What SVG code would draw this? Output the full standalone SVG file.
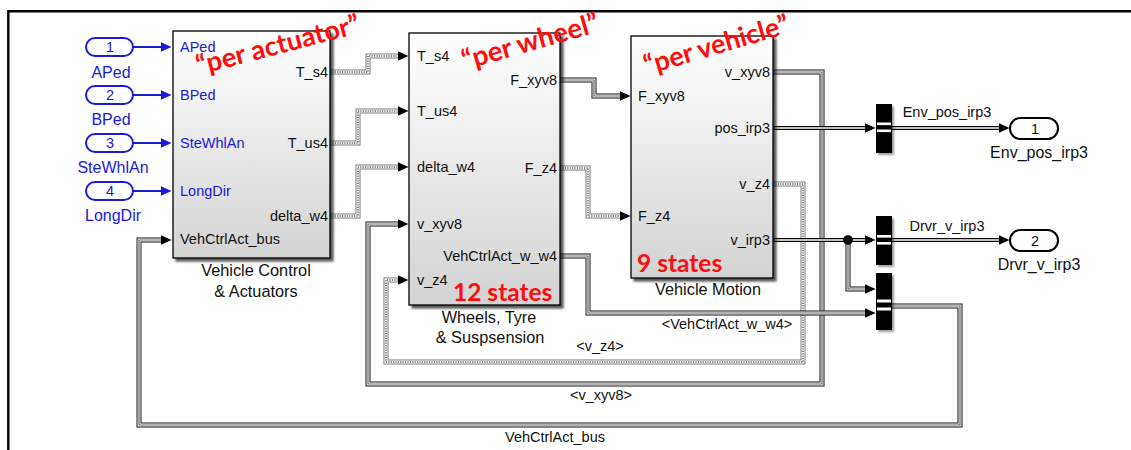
<svg xmlns="http://www.w3.org/2000/svg" width="1131" height="450" viewBox="0 0 1131 450">
<defs>
<style>
text{font-family:"Liberation Sans",Arial,sans-serif;fill:#111}
.pl{font-size:14.5px}
.pr{font-size:14.5px;text-anchor:end}
.bn{font-size:16.3px;text-anchor:middle}
.el{font-size:14.5px;text-anchor:middle}
.io{font-size:16px;text-anchor:middle}
.num{font-size:14.5px;text-anchor:middle}
.blue{fill:#1a1ad8}
.red{font-family:Lato,"Open Sans",sans-serif;font-weight:bold;fill:#ff0d0d}
.blk{fill:url(#bg);stroke:#000;stroke-width:1.3;filter:url(#sh)}
.bc{fill:#000;filter:url(#sh2)}
.bar{fill:#fff}
.ipo{fill:#fff;stroke:#1a1ad8;stroke-width:2}
.opo{fill:#fff;stroke:#000;stroke-width:2}
.in{fill:none;stroke:#1a1ad8;stroke-width:2;marker-end:url(#ahb)}
.d1{fill:none;stroke:#7a7a7a;stroke-width:5;marker-end:url(#ah)}
.d2{fill:none;stroke:#fff;stroke-width:3}
.d3{fill:none;stroke:#111;stroke-width:1;stroke-dasharray:1.2 1.2}
.t1{fill:none;stroke:#111;stroke-width:5;marker-end:url(#ah)}
.t2{fill:none;stroke:#fff;stroke-width:3}
.t3{fill:none;stroke:#666;stroke-width:1.2}
.b1{fill:none;stroke:#000;stroke-width:4;marker-end:url(#ah)}
.b2{fill:none;stroke:#fff;stroke-width:1.4}
</style>
<linearGradient id="bg" x1="0" y1="0" x2="0" y2="1">
<stop offset="0" stop-color="#ffffff"/>
<stop offset="1" stop-color="#d3d3d3"/>
</linearGradient>
<filter id="sh" x="-5%" y="-5%" width="115%" height="115%">
<feOffset in="SourceAlpha" dx="2.5" dy="2.5"/>
<feGaussianBlur stdDeviation="1"/>
<feComponentTransfer><feFuncA type="linear" slope="0.65"/></feComponentTransfer>
<feMerge><feMergeNode/><feMergeNode in="SourceGraphic"/></feMerge>
</filter>
<filter id="sh2" x="-30%" y="-10%" width="180%" height="130%">
<feOffset in="SourceAlpha" dx="2" dy="2"/>
<feGaussianBlur stdDeviation="1"/>
<feComponentTransfer><feFuncA type="linear" slope="0.4"/></feComponentTransfer>
<feMerge><feMergeNode/><feMergeNode in="SourceGraphic"/></feMerge>
</filter>
<marker id="ah" viewBox="0 0 11 10" refX="0.5" refY="5" markerWidth="11" markerHeight="10" markerUnits="userSpaceOnUse" orient="auto">
<path d="M0,0 L11,5 L0,10 Z" fill="#000"/>
</marker>
<marker id="ahb" viewBox="0 0 11 10" refX="0.5" refY="5" markerWidth="11" markerHeight="10" markerUnits="userSpaceOnUse" orient="auto">
<path d="M0,0 L11,5 L0,10 Z" fill="#1a1ad8"/>
</marker>
</defs>

<rect x="0" y="0" width="1131" height="450" fill="#fff"/>
<g id="frame">
<path d="M8.3,450 V11.2 H1131" fill="none" stroke="#000" stroke-width="2.4"/>
</g>

<g id="connectors">
<path class="in" d="M133,47 H161"/>
<path class="in" d="M133,95 H161"/>
<path class="in" d="M133,143 H161"/>
<path class="in" d="M133,191 H161"/>
<path class="d1" d="M330,72 H368 V56 H398"/>
<path class="d2" d="M330,72 H368 V56 H398"/>
<path class="d3" d="M330,72 H368 V56 H398"/>
<path class="d1" d="M330,143 H358 V111 H398"/>
<path class="d2" d="M330,143 H358 V111 H398"/>
<path class="d3" d="M330,143 H358 V111 H398"/>
<path class="d1" d="M330,216 H358 V167 H398"/>
<path class="d2" d="M330,216 H358 V167 H398"/>
<path class="d3" d="M330,216 H358 V167 H398"/>
<path class="d1" d="M560,168 H588 V216 H620"/>
<path class="d2" d="M560,168 H588 V216 H620"/>
<path class="d3" d="M560,168 H588 V216 H620"/>
<path class="d1" d="M773,184 H803 V362 H386 V280 H398"/>
<path class="d2" d="M773,184 H803 V362 H386 V280 H398"/>
<path class="d3" d="M773,184 H803 V362 H386 V280 H398"/>
<path class="t1" d="M560,80 H594 V96 H620"/>
<path class="t2" d="M560,80 H594 V96 H620"/>
<path class="t3" d="M560,80 H594 V96 H620"/>
<path class="t1" d="M773,72 H822 V384 H368 V224 H398"/>
<path class="t2" d="M773,72 H822 V384 H368 V224 H398"/>
<path class="t3" d="M773,72 H822 V384 H368 V224 H398"/>
<path class="t1" d="M560,256 H588 V313 H865"/>
<path class="t2" d="M560,256 H588 V313 H865"/>
<path class="t3" d="M560,256 H588 V313 H865"/>
<path class="t1" d="M848,240 V289 H865"/>
<path class="t2" d="M848,240 V289 H865"/>
<path class="t3" d="M848,240 V289 H865"/>
<path class="t1" d="M892,306 H960 V425 H139 V240 H161"/>
<path class="t2" d="M892,306 H960 V425 H139 V240 H161"/>
<path class="t3" d="M892,306 H960 V425 H139 V240 H161"/>
<path class="b1" d="M773,128 H865"/>
<path class="b2" d="M773,128 H865"/>
<path class="b1" d="M773,240 H865"/>
<path class="b2" d="M773,240 H865"/>
<path class="b1" d="M892,128 H999"/>
<path class="b2" d="M892,128 H999"/>
<path class="b1" d="M892,240 H999"/>
<path class="b2" d="M892,240 H999"/>
<circle cx="848" cy="240" r="4.8" fill="#000"/>
<text class="el" x="727" y="329">&lt;VehCtrlAct_w_w4&gt;</text>
<text class="el" x="600" y="351">&lt;v_z4&gt;</text>
<text class="el" x="601" y="400">&lt;v_xyv8&gt;</text>
<text class="el" x="555" y="442">VehCtrlAct_bus</text>
<text class="el" x="947" y="117">Env_pos_irp3</text>
<text class="el" x="947" y="231">Drvr_v_irp3</text>
</g>

<g id="inport1"><rect class="ipo" x="86" y="38" width="47" height="18" rx="9"/><text class="num blue" x="110" y="52">1</text><text class="io blue" x="111" y="77.5">APed</text></g>
<g id="inport2"><rect class="ipo" x="86" y="86" width="47" height="18" rx="9"/><text class="num blue" x="110" y="100">2</text><text class="io blue" x="111" y="125">BPed</text></g>
<g id="inport3"><rect class="ipo" x="86" y="134" width="47" height="18" rx="9"/><text class="num blue" x="110" y="148">3</text><text class="io blue" x="113" y="173">SteWhlAn</text></g>
<g id="inport4"><rect class="ipo" x="86" y="182" width="47" height="18" rx="9"/><text class="num blue" x="110" y="196">4</text><text class="io blue" x="113" y="221">LongDir</text></g>

<g id="vehicle-control">
<rect class="blk" x="173" y="31" width="157" height="227"/>
<text class="pl blue" x="180" y="52">APed</text>
<text class="pl blue" x="180" y="100">BPed</text>
<text class="pl blue" x="180" y="148">SteWhlAn</text>
<text class="pl blue" x="180" y="196">LongDir</text>
<text class="pl" x="180" y="244">VehCtrlAct_bus</text>
<text class="pr" x="328" y="77">T_s4</text>
<text class="pr" x="328" y="148">T_us4</text>
<text class="pr" x="328" y="221">delta_w4</text>
<text class="bn" x="256" y="276">Vehicle Control</text>
<text class="bn" x="256" y="297">&amp; Actuators</text>
<text class="red" font-size="27" x="199" y="75" transform="rotate(-14.7 199 75)">“per actuator”</text>
</g>

<g id="wheels">
<rect class="blk" x="409" y="33" width="151" height="272"/>
<text class="pl" x="417" y="61">T_s4</text>
<text class="pl" x="417" y="116">T_us4</text>
<text class="pl" x="417" y="172">delta_w4</text>
<text class="pl" x="417" y="229">v_xyv8</text>
<text class="pl" x="417" y="285">v_z4</text>
<text class="pr" x="557" y="85">F_xyv8</text>
<text class="pr" x="557" y="173">F_z4</text>
<text class="pr" x="557" y="261">VehCtrlAct_w_w4</text>
<text class="bn" x="489" y="323">Wheels, Tyre</text>
<text class="bn" x="490" y="343">&amp; Suspsension</text>
<text class="red" font-size="27.5" x="465" y="70" transform="rotate(-16 465 70)">“per wheel”</text>
<text class="red" font-size="24.5" x="453" y="301">12 states</text>
</g>

<g id="vehicle-motion">
<rect class="blk" x="631" y="36" width="142" height="242"/>
<text class="pl" x="638" y="101">F_xyv8</text>
<text class="pl" x="638" y="221">F_z4</text>
<text class="pr" x="770" y="77">v_xyv8</text>
<text class="pr" x="770" y="133">pos_irp3</text>
<text class="pr" x="770" y="189">v_z4</text>
<text class="pr" x="770" y="245">v_irp3</text>
<text class="bn" x="708" y="295">Vehicle Motion</text>
<text class="red" font-size="27" x="647" y="75" transform="rotate(-16.5 647 75)">“per vehicle”</text>
<text class="red" font-size="24.5" x="637" y="272">9 states</text>
</g>

<g id="buscreator1"><rect class="bc" x="876" y="104" width="16" height="49"/><rect class="bar" x="877" y="122.5" width="14" height="2.6"/><rect class="bar" x="877" y="129.5" width="14" height="2.6"/></g>
<g id="buscreator2"><rect class="bc" x="876" y="216" width="16" height="49"/><rect class="bar" x="877" y="235" width="14" height="2.6"/><rect class="bar" x="877" y="242" width="14" height="2.6"/></g>
<g id="buscreator3"><rect class="bc" x="876" y="273" width="16" height="57"/><rect class="bar" x="877" y="299.5" width="14" height="3"/><rect class="bar" x="877" y="307.5" width="14" height="3"/></g>

<g id="outport1"><rect class="opo" x="1010" y="118" width="48" height="21" rx="10.5"/><text class="num" x="1035" y="133.5">1</text><text class="io" x="1039" y="157.5">Env_pos_irp3</text></g>
<g id="outport2"><rect class="opo" x="1010" y="230" width="48" height="21" rx="10.5"/><text class="num" x="1035" y="245.5">2</text><text class="io" x="1039" y="269.5">Drvr_v_irp3</text></g>
</svg>
